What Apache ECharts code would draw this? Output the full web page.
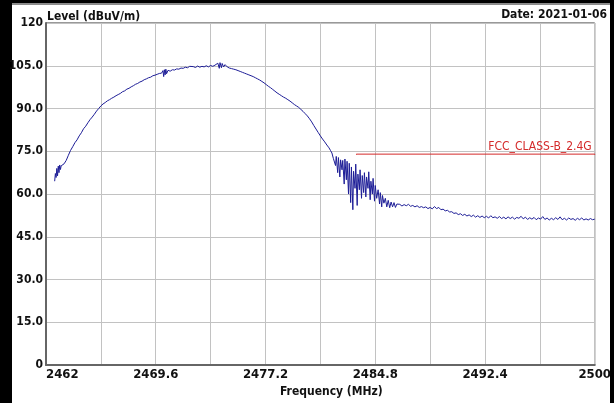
<!DOCTYPE html>
<html>
<head>
<meta charset="utf-8">
<script src="https://cdn.jsdelivr.net/npm/echarts@6/dist/echarts.min.js"></script>
<style>
  html, body { margin: 0; padding: 0; background: #000; }
  #paper { position: absolute; left: 12px; top: 3px; right: 4px; bottom: 0; background: #fff; border-top: 2px solid #8c8c8c; }
  #chart { position: absolute; left: 0; top: 0; width: 614px; height: 403px; }
</style>
</head>
<body>
<div id="paper"></div>
<div id="chart"></div>
<script>
// frequency axis, MHz
var F0 = 2462;
var F1 = 2500;
var FSTEP = 3.8;

// measured trace, [MHz, dBuV/m]
var trace = [
  [2462.60, 64.5], [2462.65, 67.2], [2462.70, 65.8], [2462.75, 69.0], [2462.80, 66.4],
  [2462.85, 69.8], [2462.90, 67.5], [2462.95, 70.2], [2463.00, 68.6], [2463.05, 69.9],
  [2463.15, 69.4], [2463.25, 70.6], [2463.40, 71.8], [2463.55, 73.6], [2463.70, 75.3],
  [2463.85, 76.6], [2464.00, 78.0], [2464.15, 79.0], [2464.30, 80.4], [2464.45, 81.5],
  [2464.60, 82.9], [2464.75, 83.8], [2464.90, 85.0], [2465.05, 86.1], [2465.20, 87.0],
  [2465.35, 88.0], [2465.50, 89.1], [2465.65, 90.0], [2465.80, 90.9], [2465.95, 91.6],
  [2466.10, 92.1], [2466.25, 92.7], [2466.40, 93.1], [2466.55, 93.6], [2466.70, 94.0],
  [2466.85, 94.5], [2467.00, 94.9], [2467.15, 95.3], [2467.30, 95.9], [2467.45, 96.2],
  [2467.60, 96.8], [2467.75, 97.1], [2467.90, 97.6], [2468.05, 98.0], [2468.20, 98.5],
  [2468.35, 98.8], [2468.50, 99.3], [2468.65, 99.6], [2468.80, 100.1], [2468.95, 100.4],
  [2469.10, 100.8], [2469.25, 101.0], [2469.40, 101.5], [2469.55, 101.7], [2469.70, 102.0],
  [2469.85, 102.3], [2470.00, 102.4], [2470.10, 103.3], [2470.15, 101.2], [2470.20, 103.6],
  [2470.25, 101.8], [2470.30, 103.8], [2470.35, 102.2], [2470.45, 103.4], [2470.60, 103.1],
  [2470.75, 103.6], [2470.90, 103.5], [2471.05, 103.9], [2471.20, 103.8], [2471.35, 104.2],
  [2471.50, 104.1], [2471.65, 104.5], [2471.80, 104.3], [2471.95, 104.8], [2472.05, 104.2],
  [2472.20, 104.7], [2472.35, 104.4], [2472.50, 104.9], [2472.65, 104.5], [2472.80, 104.8],
  [2472.95, 104.6], [2473.10, 105.0], [2473.25, 104.6], [2473.40, 105.1], [2473.55, 104.8],
  [2473.70, 105.2], [2473.80, 104.7], [2473.90, 105.9], [2474.00, 104.1], [2474.05, 106.1],
  [2474.15, 104.3], [2474.20, 105.8], [2474.30, 104.6], [2474.40, 105.4], [2474.55, 104.6],
  [2474.70, 104.2], [2474.85, 104.0], [2475.00, 103.8], [2475.15, 103.6], [2475.30, 103.3],
  [2475.45, 103.0], [2475.60, 102.7], [2475.75, 102.4], [2475.90, 102.1], [2476.05, 101.8],
  [2476.20, 101.5], [2476.35, 101.2], [2476.50, 100.8], [2476.65, 100.4], [2476.80, 100.0],
  [2476.95, 99.5], [2477.10, 99.0], [2477.25, 98.4], [2477.40, 97.8], [2477.55, 97.3],
  [2477.70, 96.7], [2477.85, 96.1], [2478.00, 95.5], [2478.15, 95.0], [2478.30, 94.5],
  [2478.45, 94.0], [2478.60, 93.6], [2478.75, 93.1], [2478.90, 92.6], [2479.05, 92.0],
  [2479.20, 91.4], [2479.35, 90.9], [2479.50, 90.4], [2479.65, 89.7], [2479.80, 89.0],
  [2479.95, 88.2], [2480.10, 87.4], [2480.25, 86.4], [2480.40, 85.3], [2480.55, 84.0],
  [2480.70, 82.8], [2480.85, 81.6], [2481.00, 80.4], [2481.15, 79.3], [2481.30, 78.3],
  [2481.45, 77.2], [2481.60, 76.2], [2481.70, 75.3],
  // band edge, noisy part
  [2481.80, 74.4], [2481.90, 72.5], [2482.00, 73.0], [2482.05, 70.0], [2482.10, 73.2],
  [2482.20, 67.5], [2482.25, 72.8], [2482.35, 66.0], [2482.40, 72.0], [2482.50, 68.5],
  [2482.55, 71.8], [2482.65, 63.5], [2482.70, 72.3], [2482.80, 65.0], [2482.85, 71.5],
  [2482.95, 60.0], [2483.00, 70.8], [2483.10, 57.0], [2483.15, 69.5], [2483.25, 54.5],
  [2483.30, 68.0], [2483.40, 62.0], [2483.45, 70.5], [2483.55, 56.0], [2483.60, 67.0],
  [2483.70, 61.5], [2483.75, 68.5], [2483.85, 58.5], [2483.90, 66.5], [2484.00, 60.5],
  [2484.05, 67.5], [2484.15, 59.0], [2484.20, 66.0], [2484.30, 62.0], [2484.35, 67.8],
  [2484.45, 58.0], [2484.50, 64.5], [2484.60, 60.0], [2484.65, 65.5], [2484.75, 57.5],
  [2484.80, 63.0], [2484.90, 58.5], [2485.00, 61.5], [2485.10, 56.5], [2485.15, 60.5],
  [2485.25, 55.5], [2485.30, 59.5], [2485.40, 56.8], [2485.50, 58.5], [2485.60, 55.5],
  [2485.70, 57.8], [2485.80, 55.2], [2485.90, 57.2], [2486.00, 55.5], [2486.10, 57.0],
  [2486.20, 55.3], [2486.30, 56.5], [2486.40, 55.8],
  // tail
  [2486.50, 56.4], [2486.65, 55.8], [2486.80, 56.3], [2486.95, 55.9], [2487.10, 56.4],
  [2487.25, 55.7], [2487.40, 56.0], [2487.55, 55.5], [2487.70, 55.9], [2487.85, 55.3],
  [2488.00, 55.6], [2488.15, 55.2], [2488.30, 55.5], [2488.45, 54.9], [2488.60, 55.3],
  [2488.75, 54.8], [2488.90, 55.6], [2489.05, 54.9], [2489.20, 55.3], [2489.35, 54.5],
  [2489.50, 54.7], [2489.65, 54.1], [2489.80, 54.3], [2489.95, 53.7], [2490.10, 53.8],
  [2490.25, 53.2], [2490.40, 53.4], [2490.55, 52.8], [2490.70, 53.1], [2490.85, 52.5],
  [2491.00, 52.9], [2491.15, 52.3], [2491.30, 52.7], [2491.45, 52.1], [2491.60, 52.6],
  [2491.75, 51.9], [2491.90, 52.4], [2492.05, 51.8], [2492.20, 52.3], [2492.35, 51.7],
  [2492.50, 52.2], [2492.65, 51.6], [2492.80, 52.4], [2492.95, 51.7], [2493.10, 52.0],
  [2493.25, 51.5], [2493.40, 52.1], [2493.55, 51.4], [2493.70, 51.9], [2493.85, 51.3],
  [2494.00, 52.0], [2494.15, 51.4], [2494.30, 51.9], [2494.45, 51.2], [2494.60, 51.8],
  [2494.75, 51.5], [2494.90, 52.2], [2495.05, 51.3], [2495.20, 51.9], [2495.35, 51.1],
  [2495.50, 51.7], [2495.65, 51.2], [2495.80, 51.8], [2495.95, 51.0], [2496.10, 51.6],
  [2496.25, 51.2], [2496.40, 52.1], [2496.55, 51.1], [2496.70, 51.6], [2496.85, 50.9],
  [2497.00, 51.5], [2497.15, 51.0], [2497.30, 51.7], [2497.45, 51.1], [2497.60, 52.0],
  [2497.75, 51.0], [2497.90, 51.5], [2498.05, 50.9], [2498.20, 51.6], [2498.35, 51.1],
  [2498.50, 51.4], [2498.65, 50.8], [2498.80, 51.5], [2498.95, 51.0], [2499.10, 51.6],
  [2499.25, 50.9], [2499.40, 51.3], [2499.55, 50.9], [2499.70, 51.4], [2499.85, 51.0],
  [2500.00, 51.2]
];

// limit line
var limitName = 'FCC_CLASS-B_2.4G';
var limitFreq = [2483.5, 2500];
var limitLevel = [74, 74];

var FONT = "'Liberation Sans Narrow', 'DejaVu Sans Condensed', 'Liberation Sans', Arial, sans-serif";
var RED = '#d42a2a';

var chart = echarts.init(document.getElementById('chart'));

// x is plotted as offset from F0 so the 3.8 MHz grid starts at the left edge
var traceData = trace.map(function (p) { return [p[0] - F0, p[1]]; });
var limitData = limitFreq.map(function (f, i) {
  var last = i === limitFreq.length - 1;
  return {
    value: [f - F0, limitLevel[i]],
    label: {
      show: last, position: 'top', align: 'right', distance: 1, offset: [-3, 0],
      formatter: limitName, color: RED, fontSize: 12, fontFamily: FONT
    }
  };
});

chart.setOption({
  animation: false,
  backgroundColor: 'transparent',
  grid: { left: 46, right: 16, top: 23, bottom: 30, show: true, borderColor: '#333', borderWidth: 1 },
  graphic: [
    { type: 'text', left: 47, top: 11, style: { text: 'Level (dBuV/m)', font: "bold 12px " + FONT, fill: '#111' } },
    { type: 'text', right: 7, top: 9, style: { text: 'Date: 2021-01-06', font: "bold 12px " + FONT, fill: '#111' } }
  ],
  xAxis: {
    type: 'value',
    min: 0,
    max: F1 - F0,
    interval: FSTEP,
    name: 'Frequency (MHz)',
    nameLocation: 'middle',
    nameGap: 17,
    nameTextStyle: { color: '#111', fontWeight: 'bold', fontSize: 12, fontFamily: FONT, padding: [0, 0, 0, 22] },
    axisLine: { show: true, lineStyle: { color: '#666', width: 2 } },
    axisTick: { show: false },
    splitLine: { show: true, lineStyle: { color: '#c2c2c2', width: 1 } },
    axisLabel: {
      margin: 3,
      color: '#111', fontWeight: 'bold', fontSize: 13, fontFamily: FONT,
      alignMinLabel: 'left',
      formatter: function (v) {
        var k = Math.round(v / FSTEP);
        if (k % 2) return '';
        var f = F0 + k * FSTEP;
        return (k === 0 || f === F1) ? String(Math.round(f)) : f.toFixed(1);
      }
    }
  },
  yAxis: {
    type: 'value',
    min: 0,
    max: 120,
    interval: 15,
    axisLine: { show: true, lineStyle: { color: '#666', width: 2 } },
    axisTick: { show: false },
    splitLine: { show: true, lineStyle: { color: '#c2c2c2', width: 1 } },
    axisLabel: {
      margin: 3,
      color: '#111', fontWeight: 'bold', fontSize: 12, fontFamily: FONT,
      formatter: function (v) { return (v === 0 || v === 120) ? String(v) : v.toFixed(1); }
    }
  },
  series: [
    {
      name: 'Level',
      type: 'line',
      data: traceData,
      showSymbol: false,
      lineStyle: { color: '#1c1c96', width: 1 },
      z: 3
    },
    {
      name: limitName,
      type: 'line',
      data: limitData,
      showSymbol: true,
      symbol: 'circle',
      symbolSize: 1,
      itemStyle: { color: RED },
      lineStyle: { color: RED, width: 1 },
      z: 2
    }
  ]
});
</script>
</body>
</html>
